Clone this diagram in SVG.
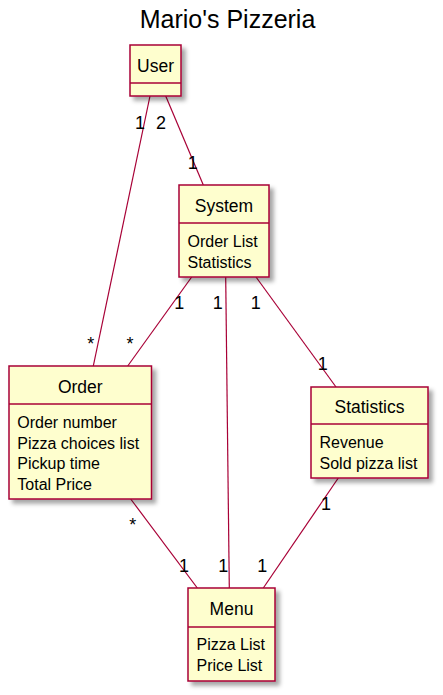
<svg xmlns="http://www.w3.org/2000/svg" width="443" height="695" viewBox="0 0 443 695">
<defs>
<filter id="sh" x="-20%" y="-20%" width="150%" height="150%">
<feGaussianBlur in="SourceAlpha" stdDeviation="2"/>
<feOffset dx="4" dy="4" result="b"/>
<feFlood flood-color="#000" flood-opacity="0.35"/>
<feComposite in2="b" operator="in"/>
<feMerge><feMergeNode/><feMergeNode in="SourceGraphic"/></feMerge>
</filter>
</defs>
<style>
.box{fill:#FEFECE;stroke:#A80036;stroke-width:1.5;filter:url(#sh)}
.sep{stroke:#A80036;stroke-width:1.5}
.name{font-family:"Liberation Sans",Arial,sans-serif;font-size:17.5px;fill:#000;text-anchor:middle}
.fld{font-family:"Liberation Sans",Arial,sans-serif;font-size:16px;fill:#000}
.lbl{font-family:"Liberation Sans",Arial,sans-serif;font-size:18px;fill:#000;text-anchor:middle}
.ln{stroke:#A80036;stroke-width:1.2;fill:none}
.title{font-family:"Liberation Sans",Arial,sans-serif;font-size:25px;fill:#000;text-anchor:middle}
</style>
<rect width="443" height="695" fill="#fff"/>
<text class="title" x="227.5" y="27.5">Mario's Pizzeria</text>
<g id="connectors">
<line class="ln" x1="150" y1="96" x2="93.3" y2="366"/>
<line class="ln" x1="165.7" y1="96" x2="203.3" y2="185"/>
<line class="ln" x1="191.7" y1="277" x2="127.7" y2="366"/>
<line class="ln" x1="225.7" y1="277" x2="229.3" y2="588"/>
<line class="ln" x1="256" y1="277" x2="336" y2="387"/>
<line class="ln" x1="338.3" y1="478" x2="263.3" y2="588"/>
<line class="ln" x1="130.7" y1="499" x2="197.3" y2="588"/>
<text class="lbl" x="140" y="128.5">1</text>
<text class="lbl" x="161" y="128.5">2</text>
<text class="lbl" x="192.7" y="168.5">1</text>
<text class="lbl" x="90.7" y="350">*</text>
<text class="lbl" x="130" y="350">*</text>
<text class="lbl" x="179.3" y="308.5">1</text>
<text class="lbl" x="217.7" y="308.5">1</text>
<text class="lbl" x="255.7" y="308.5">1</text>
<text class="lbl" x="322.7" y="370">1</text>
<text class="lbl" x="132.7" y="530.5">*</text>
<text class="lbl" x="184" y="571.5">1</text>
<text class="lbl" x="223.3" y="571.5">1</text>
<text class="lbl" x="262.3" y="571.5">1</text>
<text class="lbl" x="326" y="510">1</text>
</g>
<g id="User">
<rect class="box" x="130" y="45" width="51" height="51"/>
<line class="sep" x1="130" y1="83" x2="181" y2="83"/>
<text class="name" x="155.5" y="71.5">User</text>
</g>
<g id="System">
<rect class="box" x="179" y="185" width="90" height="92"/>
<line class="sep" x1="179" y1="223" x2="269" y2="223"/>
<text class="name" x="224" y="211.5">System</text>
<text class="fld" x="187.5" y="247">Order List</text>
<text class="fld" x="187.5" y="267.5">Statistics</text>
</g>
<g id="Order">
<rect class="box" x="9" y="366" width="142.5" height="133"/>
<line class="sep" x1="9" y1="404" x2="151.5" y2="404"/>
<text class="name" x="80.25" y="392.5">Order</text>
<text class="fld" x="17.3" y="428">Order number</text>
<text class="fld" x="17.3" y="448.5">Pizza choices list</text>
<text class="fld" x="17.3" y="469">Pickup time</text>
<text class="fld" x="17.3" y="489.5">Total Price</text>
</g>
<g id="Statistics">
<rect class="box" x="311" y="387" width="117" height="91"/>
<line class="sep" x1="311" y1="424" x2="428" y2="424"/>
<text class="name" x="369.5" y="413">Statistics</text>
<text class="fld" x="319.5" y="447.5">Revenue</text>
<text class="fld" x="319.5" y="468.5">Sold pizza list</text>
</g>
<g id="Menu">
<rect class="box" x="188" y="588" width="87" height="93"/>
<line class="sep" x1="188" y1="627" x2="275" y2="627"/>
<text class="name" x="231.5" y="614.5">Menu</text>
<text class="fld" x="196.5" y="650">Pizza List</text>
<text class="fld" x="196.5" y="670.5">Price List</text>
</g>
</svg>
